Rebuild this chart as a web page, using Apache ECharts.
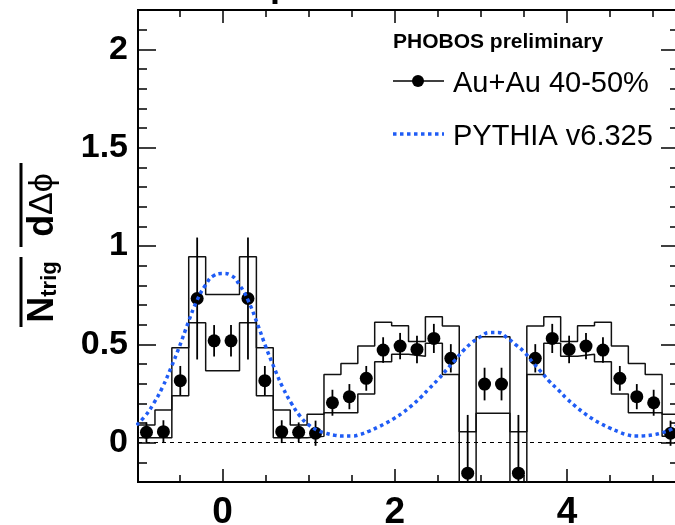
<!DOCTYPE html>
<html>
<head>
<meta charset="utf-8">
<script src="https://cdn.jsdelivr.net/npm/echarts@6/dist/echarts.min.js"></script>
<style>
html,body{margin:0;padding:0;background:#fff;}
#chart{width:675px;height:525px;}
</style>
</head>
<body>
<div id="chart"></div>
<script>
// bins of width pi/16, centres in rad
var binCenters = [-0.884,-0.687,-0.491,-0.295,-0.098,0.098,0.295,0.491,0.687,0.884,1.080,1.276,1.473,1.669,1.865,2.062,
                  2.258,2.454,2.651,2.847,3.043,3.240,3.436,3.632,3.829,4.025,4.221,4.418,4.614,4.811,5.007,5.203];
var binHalf = 0.0982;
// Au+Au 40-50% points, stat errors, systematic band (upper / lower edge)
var auauY   = [0.053,0.056,0.315,0.733,0.518,0.518,0.733,0.315,0.056,0.053,0.048,0.203,0.234,0.327,0.471,0.491,
               0.474,0.530,0.429,-0.155,0.298,0.298,-0.155,0.429,0.530,0.474,0.491,0.471,0.327,0.234,0.203,0.048];
var auauErr = [0.05,0.058,0.075,0.31,0.08,0.08,0.31,0.075,0.058,0.05,0.064,0.066,0.064,0.063,0.065,0.067,
               0.07,0.074,0.072,0.296,0.083,0.083,0.296,0.072,0.074,0.07,0.067,0.065,0.063,0.064,0.066,0.064];
var sysUp   = [0.09,0.166,0.483,0.945,0.754,0.754,0.945,0.483,0.166,0.09,0.144,0.347,0.403,0.491,0.612,0.594,
               0.515,0.640,0.593,0.056,0.539,0.539,0.056,0.593,0.640,0.515,0.594,0.612,0.491,0.403,0.347,0.144];
var sysLo   = [0.025,0.025,0.239,0.61,0.366,0.366,0.61,0.239,0.025,0.025,0.032,0.152,0.152,0.247,0.411,0.45,
               0.44,0.505,0.347,-0.5,0.149,0.149,-0.5,0.347,0.505,0.44,0.45,0.411,0.247,0.152,0.152,0.032];
// PYTHIA v6.325
var pythiaX = [-1.0,-0.9,-0.8,-0.7,-0.6,-0.5,-0.4,-0.3,-0.2,-0.1,0,0.1,0.2,0.3,0.4,0.5,0.6,0.7,0.8,0.9,1.0,1.1,1.2,1.3,1.4,1.5,
               1.6,1.7,1.8,1.9,2.0,2.1,2.2,2.3,2.4,2.5,2.6,2.7,2.8,2.9,3.0,3.1,3.2,3.3,3.4,3.5,3.6,3.7,3.8,3.9,4.0,4.1,4.2,4.3,
               4.4,4.5,4.6,4.7,4.8,4.9,5.0,5.1,5.2,5.3];
var pythiaY = [0.09,0.135,0.20,0.28,0.38,0.49,0.61,0.72,0.80,0.85,0.86,0.85,0.80,0.72,0.61,0.49,0.38,0.28,0.20,0.135,
               0.09,0.063,0.048,0.038,0.034,0.034,0.042,0.058,0.078,0.10,0.125,0.155,0.19,0.23,0.275,0.32,0.37,0.42,0.47,0.51,
               0.54,0.56,0.56,0.535,0.50,0.462,0.41,0.36,0.31,0.268,0.223,0.185,0.15,0.12,0.095,0.074,0.055,0.04,0.034,0.035,
               0.04,0.05,0.066,0.095];
var xMajor = [0, 2, 4];
var xMinor = [-0.5, 0.5, 1, 1.5, 2.5, 3, 3.5, 4.5, 5];
var yMajor = [0, 0.5, 1, 1.5, 2];
var yMinor = [-0.1,0.1,0.2,0.3,0.4,0.6,0.7,0.8,0.9,1.1,1.2,1.3,1.4,1.6,1.7,1.8,1.9,2.1];

var xMin = binCenters[0] - binHalf, xMax = binCenters[binCenters.length-1] + binHalf;
var FONT = "'Liberation Sans', Arial, Helvetica, sans-serif";
var BLUE = '#1f5cf5';

var stepData = function(vals){
    let d = binCenters.map((c,i)=>[c - binHalf, vals[i]]);
    d.push([xMax, vals[vals.length-1]]);
    return d;
};

var mkX = function(pos, ticks, len, labels){
    return {
        type:'value', position:pos, min:xMin, max:xMax,
        axisLine:{show:true, onZero:false, lineStyle:{color:'#000', width:2}},
        axisTick:{show:true, inside:true, length:len, customValues:ticks, lineStyle:{color:'#000', width:1.5}},
        axisLabel: labels ? {show:true, customValues:ticks, margin:12, color:'#000',
                             fontFamily:FONT, fontWeight:'bold', fontSize:37} : {show:false},
        splitLine:{show:false}
    };
};
var mkY = function(pos, ticks, len, labels){
    return {
        type:'value', position:pos, min:-0.2, max:2.2,
        axisLine:{show:true, onZero:false, lineStyle:{color:'#000', width:2}},
        axisTick:{show:true, inside:true, length:len, customValues:ticks, lineStyle:{color:'#000', width:1.5}},
        axisLabel: labels ? {show:true, customValues:ticks, margin:10, color:'#000',
                             fontFamily:FONT, fontWeight:'bold', fontSize:34} : {show:false},
        splitLine:{show:false}
    };
};

var chart = echarts.init(document.getElementById('chart'), null, {renderer:'canvas'});
var option = {
    animation:false,
    backgroundColor:'#fff',
    grid:{left:138, top:10, right:-4, bottom:43, containLabel:false, outerBoundsMode:'none'},
    xAxis:[mkX('bottom', xMinor, 7, false), mkX('bottom', xMajor, 13, true),
           mkX('top', xMinor, 7, false), mkX('top', xMajor, 13, false)],
    yAxis:[mkY('left', yMinor, 9, false), mkY('left', yMajor, 18, true),
           mkY('right', yMinor, 9, false), mkY('right', yMajor, 18, false)],
    series:[
        {   // systematic band, upper edge
            type:'line', step:'end', data:stepData(sysUp), showSymbol:false, symbol:'none',
            lineStyle:{color:'#111', width:1.5}, clip:true, z:2,
            markLine:{silent:true, symbol:'none', label:{show:false},
                      lineStyle:{color:'#000', width:1, type:[4,4]}, data:[{yAxis:0}]}
        },
        {   // systematic band, lower edge
            type:'line', step:'end', data:stepData(sysLo), showSymbol:false, symbol:'none',
            lineStyle:{color:'#111', width:1.5}, clip:true, z:2
        },
        {   // stat error bars
            type:'custom', clip:true, z:3,
            data:binCenters.map((c,i)=>[c, auauY[i] - auauErr[i], auauY[i] + auauErr[i]]),
            renderItem:function(params, api){
                let lo = api.coord([api.value(0), api.value(1)]);
                let hi = api.coord([api.value(0), api.value(2)]);
                return {type:'line', shape:{x1:lo[0], y1:lo[1], x2:hi[0], y2:hi[1]},
                        style:{stroke:'#000', lineWidth:1.8}};
            }
        },
        {
            name:'Au+Au 40-50%', type:'scatter', symbol:'circle', symbolSize:13,
            data:binCenters.map((c,i)=>[c, auauY[i]]),
            itemStyle:{color:'#000', opacity:1}, z:4
        },
        {
            name:'PYTHIA v6.325', type:'line', smooth:true, showSymbol:false, symbol:'none',
            data:pythiaX.map((x,i)=>[x, pythiaY[i]]),
            lineStyle:{color:BLUE, width:3.5, type:[3.5,3.5]}, clip:true, z:5
        }
    ],
    graphic:[
        // bottom of the cut-off title
        {type:'text', x:270, y:4, style:{text:'p', align:'left', verticalAlign:'bottom', fill:'#000',
            font:'bold 36px ' + FONT}},
        {type:'text', left:393, top:32, style:{text:'PHOBOS preliminary', fill:'#000',
            font:'bold 21px ' + FONT}},
        {type:'line', shape:{x1:393, y1:81, x2:444, y2:81}, style:{stroke:'#000', lineWidth:1.5}},
        {type:'circle', shape:{cx:418, cy:81, r:6}, style:{fill:'#000'}},
        {type:'text', left:453, top:69, style:{text:'Au+Au 40-50%', fill:'#000', font:'29px ' + FONT}},
        {type:'line', shape:{x1:393, y1:134, x2:444, y2:134},
            style:{stroke:BLUE, lineWidth:3.5, lineDash:[3.5,3.5]}},
        {type:'text', left:453, top:122, style:{text:'PYTHIA v6.325', fill:'#000', font:'29px ' + FONT}},
        // y axis title, rotated and partly cut by the page edge
        {type:'line', shape:{x1:21, y1:257, x2:21, y2:327}, style:{stroke:'#000', lineWidth:3}},
        {type:'line', shape:{x1:21, y1:163, x2:21, y2:247}, style:{stroke:'#000', lineWidth:3}},
        {type:'text', x:43, y:292, rotation:Math.PI/2,
            style:{text:'{n|N}{s|trig}', align:'center', verticalAlign:'middle',
                   rich:{n:{font:'bold 36px ' + FONT, fill:'#000'},
                         s:{font:'bold 22px ' + FONT, fill:'#000', padding:[14,0,0,0]}}}},
        {type:'text', x:43, y:205, rotation:Math.PI/2,
            style:{text:'{d|d}{g|\u0394\u03d5}', align:'center', verticalAlign:'middle',
                   rich:{d:{font:'bold 36px ' + FONT, fill:'#000'},
                         g:{font:'34px ' + FONT, fill:'#000'}}}},
        {type:'text', x:-10, y:292, rotation:Math.PI/2,
            style:{text:'1', align:'center', verticalAlign:'middle', fill:'#000', font:'bold 36px ' + FONT}},
        {type:'text', x:-10, y:205, rotation:Math.PI/2,
            style:{text:'dN', align:'center', verticalAlign:'middle', fill:'#000', font:'bold 36px ' + FONT}}
    ]
};
chart.setOption(option);
</script>
</body>
</html>
